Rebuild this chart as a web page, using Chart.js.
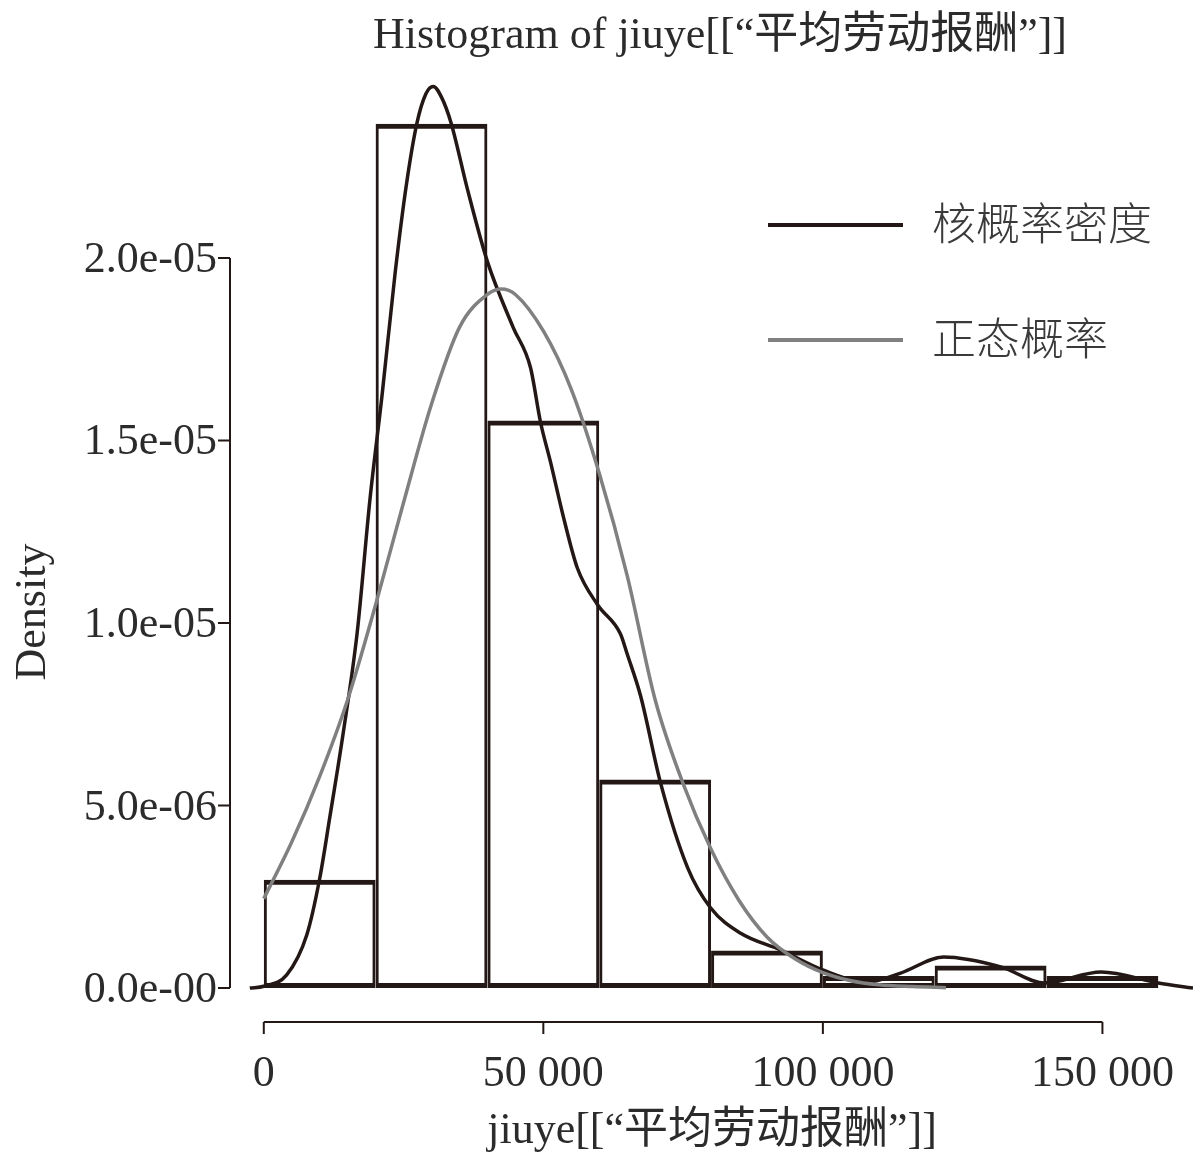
<!DOCTYPE html>
<html>
<head>
<meta charset="utf-8">
<script src="https://cdn.jsdelivr.net/npm/chart.js@4.4.1/dist/chart.umd.min.js"></script>
<style>
  html, body { margin: 0; padding: 0; background: #fff; }
  canvas { display: block; }
</style>
</head>
<body>
<canvas id="hist" width="1193" height="1159"></canvas>
<script>
// ---------- data (density in units of 1e-6) ----------
const binEdges = [0, 20000, 40000, 60000, 80000, 100000, 120000, 140000, 160000];
const histDensity = [2.97, 23.68, 15.55, 5.71, 1.03, 0.33, 0.62, 0.33];

// kernel density curve
const kdeX = [-2500, 0, 4100, 7700, 10000, 11800, 14200, 16700, 19000, 21200, 23500, 25500, 27400, 29000,
  30300, 31800, 33500, 36400, 40000, 44600, 47700, 49500, 51300, 53600, 56100, 59700, 63800, 65000, 67400,
  71000, 75800, 79900, 85300, 92500, 100100, 108000, 113900, 121600, 131800, 139600, 149800, 160000, 166200];
const kdeY = [0, 0.05, 0.36, 1.46, 3.0, 4.67, 6.98, 9.73, 13.4, 16.3, 19.6, 22.0, 23.7, 24.5,
  24.7, 24.4, 23.7, 21.9, 19.9, 18.1, 17.0, 15.5, 14.4, 12.9, 11.5, 10.5, 9.7, 9.15, 8.0,
  5.6, 3.3, 2.2, 1.5, 1.04, 0.49, 0.16, 0.41, 0.85, 0.58, 0.14, 0.44, 0.14, 0];

// normal curve
const normX = [0, 5000, 10000, 15000, 20000, 25000, 30000, 35000, 40000, 42500, 45000, 50000, 55000,
  60000, 65000, 70000, 75000, 80000, 85000, 90000, 95000, 100000, 105000, 110000, 116000, 122000];
const normY = [2.45, 4.0, 5.8, 7.9, 10.5, 13.3, 16.0, 18.1, 19.0, 19.15, 19.0, 18.0, 16.4,
  14.1, 11.3, 7.9, 5.6, 3.8, 2.4, 1.4, 0.8, 0.42, 0.2, 0.09, 0.04, 0.01];

const xTicks = [0, 50000, 100000, 150000];
const xTickLabels = ['0', '50 000', '100 000', '150 000'];
const yTicks = [0, 5, 10, 15, 20];
const yTickLabels = ['0.0e-00', '5.0e-06', '1.0e-05', '1.5e-05', '2.0e-05'];

const titleText = 'Histogram of jiuye[[“平均劳动报酬”]]';
const xTitle = 'jiuye[[“平均劳动报酬”]]';
const yTitle = 'Density';
const legendLabels = ['核概率密度', '正态概率'];

// ---------- styles ----------
const SERIF = '"Liberation Serif", "Noto Sans CJK SC", serif';
const CJK = '"Noto Sans CJK SC", sans-serif';
const ink = '#231815';
const textInk = '#2b2b2b';
const grayLine = '#808080';

const histPoints = histDensity.map((d, i) => ({ x: (binEdges[i] + binEdges[i + 1]) / 2, y: d }));
const kdePoints = kdeX.map((x, i) => ({ x, y: kdeY[i] }));
const normPoints = normX.map((x, i) => ({ x, y: normY[i] }));

// ---------- R-style axes, titles and legend ----------
const rDecor = {
  id: 'rDecor',
  afterDraw(chart) {
    const { ctx, chartArea } = chart;
    const x = chart.scales.x, y = chart.scales.y;
    ctx.save();
    ctx.strokeStyle = ink;
    ctx.fillStyle = textInk;
    ctx.lineWidth = 2;

    // y axis
    const ax = chartArea.left + 2;
    ctx.beginPath();
    ctx.moveTo(ax, y.getPixelForValue(yTicks[0]));
    ctx.lineTo(ax, y.getPixelForValue(yTicks[yTicks.length - 1]));
    yTicks.forEach(t => {
      const py = y.getPixelForValue(t);
      ctx.moveTo(ax - 12, py); ctx.lineTo(ax, py);
    });
    ctx.stroke();
    ctx.font = `44px ${SERIF}`;
    ctx.textAlign = 'right';
    ctx.textBaseline = 'alphabetic';
    yTicks.forEach((t, i) => {
      ctx.fillText(yTickLabels[i], ax - 13, y.getPixelForValue(t) + 14);
    });

    // x axis
    const ay = chartArea.bottom;
    ctx.beginPath();
    ctx.moveTo(x.getPixelForValue(xTicks[0]), ay);
    ctx.lineTo(x.getPixelForValue(xTicks[xTicks.length - 1]), ay);
    xTicks.forEach(t => {
      const px = x.getPixelForValue(t);
      ctx.moveTo(px, ay); ctx.lineTo(px, ay + 12);
    });
    ctx.stroke();
    ctx.textAlign = 'center';
    xTicks.forEach((t, i) => {
      ctx.fillText(xTickLabels[i], x.getPixelForValue(t), 1086);
    });

    // titles
    ctx.fillText(titleText, 720, 48);
    ctx.fillText(xTitle, 712, 1143);
    ctx.save();
    ctx.translate(45, 612);
    ctx.rotate(-Math.PI / 2);
    ctx.fillText(yTitle, 0, 0);
    ctx.restore();

    // legend
    const legendColors = [ink, grayLine];
    const legendY = [225, 340];
    ctx.font = `300 44px ${CJK}`;
    ctx.textAlign = 'left';
    ctx.textBaseline = 'middle';
    legendLabels.forEach((lab, i) => {
      ctx.strokeStyle = legendColors[i];
      ctx.lineWidth = 4;
      ctx.beginPath();
      ctx.moveTo(768, legendY[i]); ctx.lineTo(903, legendY[i]);
      ctx.stroke();
      ctx.fillStyle = '#3a3a3a';
      ctx.fillText(lab, 932, legendY[i] - 2);
    });
    ctx.restore();
  }
};

new Chart(document.getElementById('hist'), {
  type: 'bar',
  data: {
    datasets: [
      {
        type: 'line',
        label: legendLabels[1],
        data: normPoints,
        borderColor: grayLine,
        borderWidth: 3.5,
        pointRadius: 0,
        cubicInterpolationMode: 'monotone',
        order: 1
      },
      {
        type: 'line',
        label: legendLabels[0],
        data: kdePoints,
        borderColor: ink,
        borderWidth: 3.5,
        pointRadius: 0,
        cubicInterpolationMode: 'monotone',
        order: 2
      },
      {
        type: 'bar',
        label: 'hist',
        data: histPoints,
        backgroundColor: 'rgba(255,255,255,0)',
        borderColor: ink,
        borderWidth: { top: 5, bottom: 5, left: 3, right: 3 },
        borderSkipped: false,
        inflateAmount: 0,
        barPercentage: 1,
        categoryPercentage: 1,
        order: 3
      }
    ]
  },
  options: {
    responsive: false,
    animation: false,
    devicePixelRatio: 1,
    layout: { padding: { left: 228, right: 0, top: 51, bottom: 137 } },
    scales: {
      x: { type: 'linear', min: -6400, max: 166200, offset: false, display: false },
      y: { type: 'linear', min: -0.93, max: 25.67, display: false }
    },
    plugins: { legend: { display: false }, tooltip: { enabled: false } }
  },
  plugins: [rDecor]
});
</script>
</body>
</html>
